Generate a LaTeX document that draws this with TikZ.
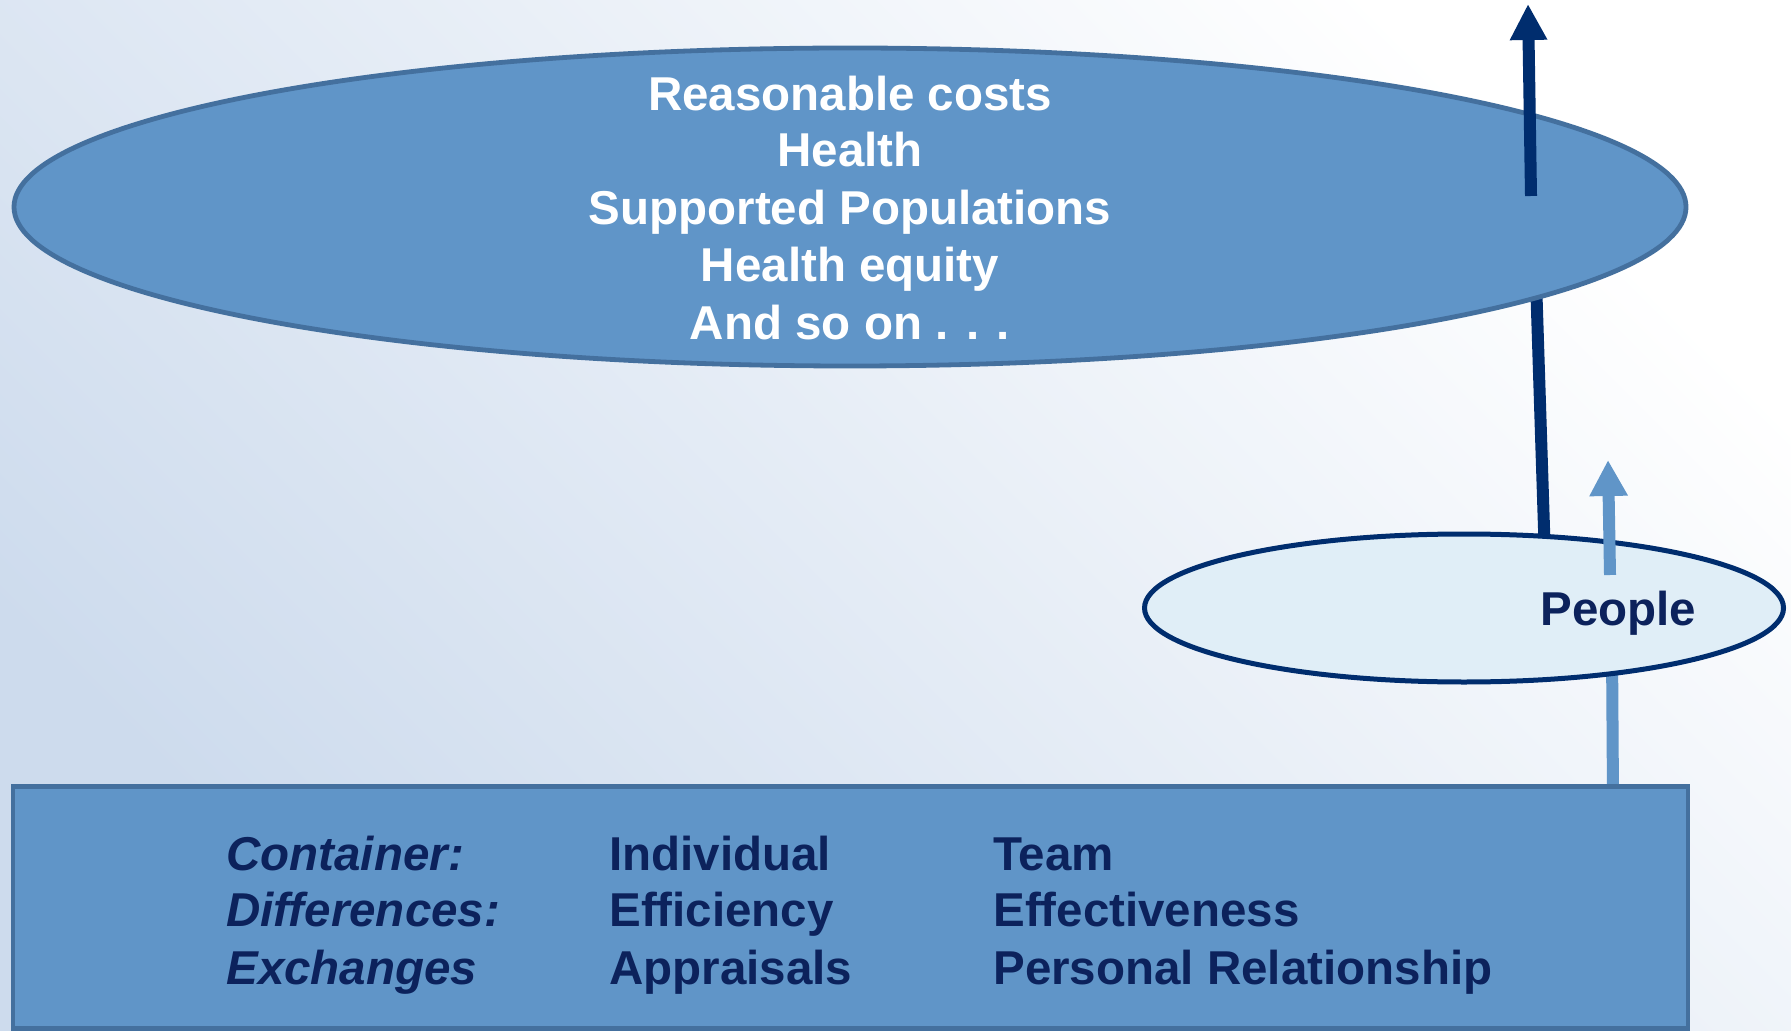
\documentclass[tikz,border=0pt]{standalone}
\usepackage{fontspec}
\setmainfont{Liberation Sans}
\usetikzlibrary{arrows.meta,shapes.geometric}
\definecolor{bgdark}{RGB}{205,219,237}
\definecolor{midblue}{RGB}{96,149,200}
\definecolor{edgeblue}{RGB}{68,112,158}
\definecolor{navy}{RGB}{0,45,110}
\definecolor{textnavy}{RGB}{12,34,92}
\definecolor{paleblue}{RGB}{224,238,247}
\pgfdeclarelayer{bg}
\pgfsetlayers{bg,main}
\begin{document}
\begin{tikzpicture}[x=0.5pt,y=-0.5pt,
  bigtxt/.style={text=white,font=\fontsize{23.75pt}{28pt}\selectfont\bfseries,anchor=base,inner sep=0pt},
  boxtxt/.style={text=textnavy,font=\fontsize{23.75pt}{28pt}\selectfont\bfseries,anchor=base west,inner sep=0pt},
  boxlabel/.style={boxtxt,font=\fontsize{23.75pt}{28pt}\selectfont\bfseries\itshape},
  fillshape/.style={draw=edgeblue,fill=midblue,line width=2.4pt,inner sep=0pt},
  darkline/.style={navy,line width=6pt},
  lightline/.style={midblue,line width=6pt}]
\useasboundingbox (0,0) rectangle (1791,1031);
\begin{pgfonlayer}{bg}
\shade[top color=white,bottom color=bgdark,shading angle=-45] (0,0) rectangle (1791,1031);
\end{pgfonlayer}
% shapes
\node[fillshape,ellipse,minimum width=836pt,minimum height=159pt] (big) at (850,207) {};
\node[draw=navy,fill=paleblue,line width=2.5pt,inner sep=0pt,ellipse,minimum width=319.5pt,minimum height=74pt] (people) at (1464,608) {};
\node[fillshape,rectangle,minimum width=837.5pt,minimum height=121pt] (box) at (850.5,907.5) {};
% connectors behind shapes (ends hidden inside the shapes)
\coordinate (ptop) at (1545,560);
\coordinate (bbot) at (1536,280);
\coordinate (pbot) at (1612,650);
\coordinate (btop) at (1613,800);
\begin{pgfonlayer}{bg}
\draw[darkline] (ptop) -- (bbot);
\draw[lightline] (btop) -- (pbot);
\end{pgfonlayer}
% arrows on top
\coordinate (dstart) at (1531,196);
\coordinate (dtip) at (1528,4);
\draw[darkline,-{Triangle[width=17.5pt,length=18pt]}] (dstart) -- (dtip);
\coordinate (lstart) at (1610,575);
\coordinate (ltip) at (1608,460);
\draw[lightline,-{Triangle[width=18pt,length=18pt]}] (lstart) -- (ltip);
% texts
\node[bigtxt] (t1) at (850,111) {Reasonable costs};
\node[bigtxt] (t2) at (850,167) {Health};
\node[bigtxt] (t3) at (850,225) {Supported Populations};
\node[bigtxt] (t4) at (850,282) {Health equity};
\node[bigtxt] (t5) at (850,340) {And so on . . .};
\node[boxtxt] (ppl) at (1540,625) {People};
\node[boxlabel] (l1) at (226,870) {Container:};
\node[boxlabel] (l2) at (226,926) {Differences:};
\node[boxlabel] (l3) at (226,984) {Exchanges};
\node[boxtxt] (a1) at (609,870) {Individual};
\node[boxtxt] (a2) at (609,926) {Efficiency};
\node[boxtxt] (a3) at (609,984) {Appraisals};
\node[boxtxt] (b1) at (993,870) {Team};
\node[boxtxt] (b2) at (993,926) {Effectiveness};
\node[boxtxt] (b3) at (993,984) {Personal Relationship};
\end{tikzpicture}
\end{document}
